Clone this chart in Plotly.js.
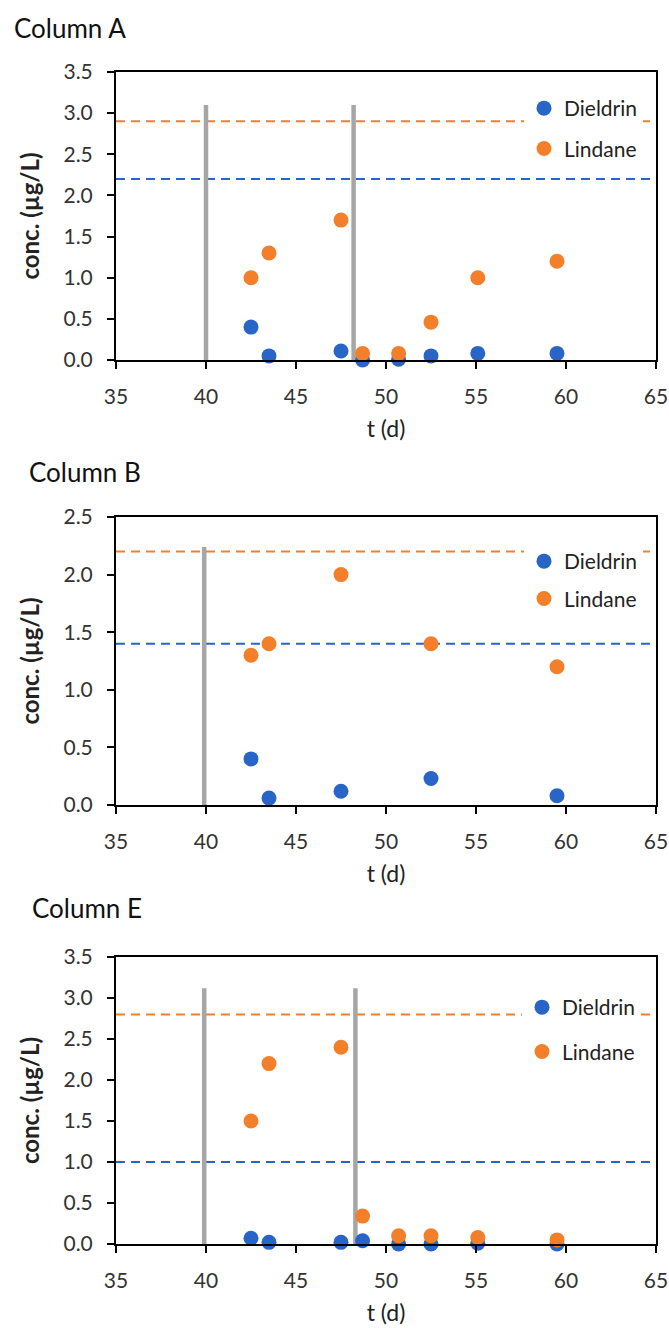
<!DOCTYPE html>
<html>
<head>
<meta charset="utf-8">
<script src="https://cdn.plot.ly/plotly-3.0.1.min.js"></script>
<style>html,body{margin:0;padding:0;background:#fff;}#chart{width:669px;height:1328px;}</style>
</head>
<body>
<div id="chart"></div>
<script>
// ---- data ----
const panelTitles = ["Column A", "Column B", "Column E"];
const seriesNames = ["Dieldrin", "Lindane"];

const timeA = [42.5, 43.5, 47.5, 48.7, 50.7, 52.5, 55.1, 59.5];
const dieldrinA = [0.40, 0.05, 0.11, 0.00, 0.01, 0.05, 0.08, 0.08];
const lindaneA = [1.00, 1.30, 1.70, 0.08, 0.08, 0.46, 1.00, 1.20];

const timeB = [42.5, 43.5, 47.5, 52.5, 59.5];
const dieldrinB = [0.40, 0.06, 0.12, 0.23, 0.08];
const lindaneB = [1.30, 1.40, 2.00, 1.40, 1.20];

const timeE = [42.5, 43.5, 47.5, 48.7, 50.7, 52.5, 55.1, 59.5];
const dieldrinE = [0.07, 0.02, 0.02, 0.04, 0.00, 0.00, 0.01, 0.00];
const lindaneE = [1.50, 2.20, 2.40, 0.34, 0.10, 0.10, 0.08, 0.05];

// threshold (dashed) levels per panel
const dieldrinLimit = [2.2, 1.4, 1.0];
const lindaneLimit = [2.9, 2.2, 2.8];

// grey vertical event markers per panel
const eventTimesA = [40, 48.2];
const eventTimesB = [39.9];
const eventTimesE = [39.9, 48.3];
const eventTop = [3.1, 2.24, 3.12];

const xRange = [35, 65];
const yMax = [3.5, 2.5, 3.5];
const xTicks = [35, 40, 45, 50, 55, 60, 65];

// ---- styling ----
const BLUE = "#2865C6";
const ORANGE = "#F37F2B";
const GREY = "#A6A6A6";
const FONT = "Lato, 'Open Sans', sans-serif";

const panels = [
  {t: timeA, d: dieldrinA, l: lindaneA, ev: eventTimesA},
  {t: timeB, d: dieldrinB, l: lindaneB, ev: eventTimesB},
  {t: timeE, d: dieldrinE, l: lindaneE, ev: eventTimesE}
];

const traces = [];
panels.forEach((p, i) => {
  const sfx = i === 0 ? "" : String(i + 1);
  const xa = "x" + sfx, ya = "y" + sfx;
  const leg = "legend" + sfx;
  // dashed thresholds
  traces.push({x: xRange, y: [lindaneLimit[i], lindaneLimit[i]], xaxis: xa, yaxis: ya,
    mode: "lines", line: {color: ORANGE, width: 2, dash: "9px,6px"}, showlegend: false, hoverinfo: "skip"});
  traces.push({x: xRange, y: [dieldrinLimit[i], dieldrinLimit[i]], xaxis: xa, yaxis: ya,
    mode: "lines", line: {color: BLUE, width: 2, dash: "9px,6px"}, showlegend: false, hoverinfo: "skip"});
  // grey event bars
  const ex = [], ey = [];
  p.ev.forEach(t => { ex.push(t, t, null); ey.push(0, eventTop[i], null); });
  traces.push({x: ex, y: ey, xaxis: xa, yaxis: ya, mode: "lines",
    line: {color: GREY, width: 4.5}, showlegend: false, hoverinfo: "skip", connectgaps: false});
  // data series
  traces.push({x: p.t, y: p.d, xaxis: xa, yaxis: ya, mode: "markers", name: seriesNames[0],
    legend: leg, legendgroup: "d" + i, cliponaxis: false,
    marker: {color: BLUE, size: 15, line: {width: 0}}});
  traces.push({x: p.t, y: p.l, xaxis: xa, yaxis: ya, mode: "markers", name: seriesNames[1],
    legend: leg, legendgroup: "l" + i, cliponaxis: false,
    marker: {color: ORANGE, size: 15, line: {width: 0}}});
});

// layout geometry (px)
const W = 669, H = 1328;
const M = {l: 116, r: 13, t: 72, b: 84};
const plotTop = M.t, plotBot = H - M.b, plotH = plotBot - plotTop;
const panelPx = [[72, 360], [517, 805], [957, 1244]];
const dom = panelPx.map(([top, bot]) => [(plotBot - bot) / plotH, (plotBot - top) / plotH]);
const py = px => (plotBot - px) / plotH;
const pxX = px => (px - M.l) / (W - M.l - M.r);

function xAxis(anchor) {
  return {
    anchor: anchor, range: xRange, tickvals: xTicks, ticks: "outside", ticklen: 7, tickwidth: 2,
    tickcolor: "#000", showline: true, linecolor: "#000", linewidth: 2, mirror: true,
    showgrid: false, zeroline: false, ticklabelstandoff: 10,
    tickfont: {family: FONT, size: 21, color: "#333"},
    title: {text: "t (d)", font: {family: FONT, size: 23, color: "#222"}, standoff: 14}
  };
}
function yAxis(anchor, i) {
  return {
    anchor: anchor, domain: dom[i], range: [0, yMax[i]], dtick: 0.5, tickformat: ".1f",
    ticks: "outside", ticklen: 7, tickwidth: 2, tickcolor: "#000",
    showline: true, linecolor: "#000", linewidth: 2, mirror: true,
    showgrid: false, zeroline: false, ticklabelstandoff: 10,
    tickfont: {family: FONT, size: 21, color: "#333"},
    title: {text: "<b>conc. (µg/L)</b>", font: {family: FONT, size: 24, color: "#222"}, standoff: 17}
  };
}

function legendAt(xpx, toppx, gap) {
  return {
    x: pxX(xpx), y: py(toppx), xanchor: "left", yanchor: "top", xref: "paper", yref: "paper",
    bgcolor: "#fff", borderwidth: 0, traceorder: "grouped", tracegroupgap: gap,
    font: {family: FONT, size: 21, color: "#222"}, itemsizing: "trace"
  };
}

const titleY = [28, 472, 908];
const titleX = [12, 27, 30];
const annotations = panelTitles.map((txt, i) => ({
  text: txt, xref: "paper", yref: "paper", x: pxX(titleX[i]), y: py(titleY[i]),
  xanchor: "left", yanchor: "middle", showarrow: false,
  font: {family: FONT, size: 26, color: "#111"}
}));

const layout = {
  width: W, height: H, margin: M, paper_bgcolor: "#fff", plot_bgcolor: "#fff",
  showlegend: true, font: {family: FONT},
  xaxis: xAxis("y"), yaxis: yAxis("x", 0),
  xaxis2: xAxis("y2"), yaxis2: yAxis("x2", 1),
  xaxis3: xAxis("y3"), yaxis3: yAxis("x3", 2),
  legend: legendAt(524, 88, 10),
  legend2: legendAt(524, 541, 7),
  legend3: legendAt(522, 987, 14),
  annotations: annotations
};

Plotly.newPlot("chart", traces, layout, {staticPlot: true, displayModeBar: false});
</script>
</body>
</html>
